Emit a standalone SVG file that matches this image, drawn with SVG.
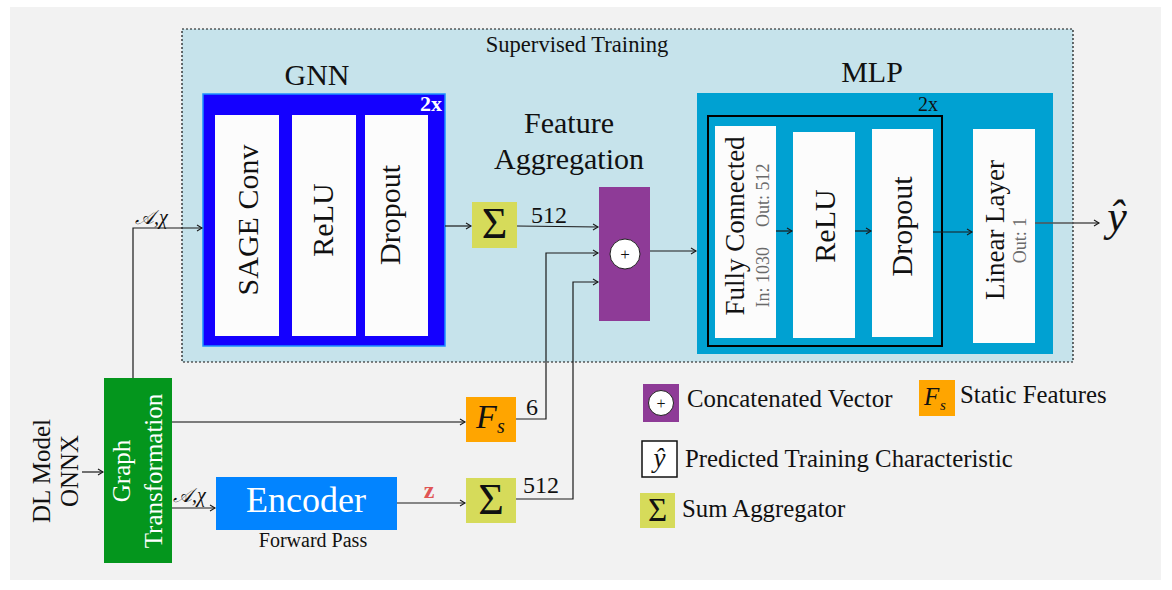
<svg xmlns="http://www.w3.org/2000/svg" width="1172" height="590" viewBox="0 0 1172 590">
<style>
text{font-family:"Liberation Serif","Times New Roman",serif;fill:#111}
.w{fill:#fcfcfc}
.sig{fill:#d6db5a}
.ln{fill:none;stroke:#1a1a1a;stroke-width:1.2}
.lg{fill:none;stroke:#555;stroke-width:1.4}
.t30{font-size:30px}
.t27{font-size:27px}
.sub{font-size:18px;fill:#6a6a6a}
.leg{font-size:24.8px}
.mid{text-anchor:middle}
</style>
<defs>
<marker id="ar" markerWidth="8" markerHeight="8" refX="6" refY="4" orient="auto" markerUnits="userSpaceOnUse">
<path d="M1,1 L6,4 L1,7" fill="none" stroke="#1a1a1a" stroke-width="1.1"/>
</marker>
</defs>
<rect x="0" y="0" width="1172" height="590" fill="#ffffff"/>
<rect x="10" y="7" width="1151" height="573" fill="#f2f2f2"/>

<g id="supervised">
<rect x="182" y="29" width="891" height="333" fill="#c6e3eb" stroke="#111" stroke-width="1.2" stroke-dasharray="2,2"/>
<text x="577" y="52" font-size="22.6" class="mid">Supervised Training</text>
</g>

<g id="gnn">
<text x="317" y="85" class="t30 mid">GNN</text>
<rect x="203" y="94" width="242" height="252" fill="#1400ff" stroke="#1e90ff" stroke-width="1.5"/>
<text x="442" y="111" font-size="22" font-weight="bold" style="fill:#fff" text-anchor="end">2x</text>
<rect class="w" x="215" y="115" width="64" height="221"/>
<rect class="w" x="292" y="115" width="64" height="221"/>
<rect class="w" x="365" y="115" width="63" height="221"/>
<text class="t30 mid" transform="translate(258,220) rotate(-90)">SAGE Conv</text>
<text class="t30 mid" transform="translate(333,220) rotate(-90)">ReLU</text>
<text class="t30 mid" transform="translate(400,215) rotate(-90)">Dropout</text>
</g>

<g id="sum1">
<rect class="sig" x="472" y="202" width="45" height="46"/>
<text x="494.5" y="238" font-size="44" class="mid">Σ</text>
</g>

<g id="feature-aggregation">
<text x="569" y="133" class="t30 mid">Feature</text>
<text x="569" y="169" class="t30 mid">Aggregation</text>
<rect x="599" y="187" width="51" height="134" fill="#8e3b97"/>
<circle cx="625" cy="254" r="15" fill="#fff" stroke="#222" stroke-width="1"/>
<text x="625" y="260" font-size="17" class="mid">+</text>
</g>

<g id="mlp">
<text x="872" y="82" class="t30 mid">MLP</text>
<rect x="697" y="93" width="356" height="261" fill="#00a1d2"/>
<rect x="708" y="116" width="234" height="230" fill="none" stroke="#000" stroke-width="2"/>
<text x="938" y="111" font-size="20" text-anchor="end">2x</text>
<rect class="w" x="715" y="126" width="61" height="212"/>
<rect class="w" x="793" y="132" width="62" height="206"/>
<rect class="w" x="872" y="129" width="61" height="208"/>
<rect class="w" x="973" y="129" width="62" height="214"/>
<text class="t27 mid" transform="translate(744,226) rotate(-90)">Fully Connected</text>
<text class="sub mid" transform="translate(769,235.5) rotate(-90)">In: 1030<tspan dx="20">Out: 512</tspan></text>
<text class="t30 mid" transform="translate(835,226) rotate(-90)">ReLU</text>
<text class="t30 mid" transform="translate(912,226.5) rotate(-90)">Dropout</text>
<text class="t27 mid" transform="translate(1004,230) rotate(-90)">Linear Layer</text>
<text class="sub mid" transform="translate(1026,240.5) rotate(-90)">Out: 1</text>
</g>

<g id="output">
<text x="1117" y="231" font-size="44" font-style="italic" class="mid">ŷ</text>
</g>

<g id="input">
<text font-size="25" class="mid" transform="translate(50,471) rotate(-90)">DL Model</text>
<text font-size="25" class="mid" transform="translate(78,471) rotate(-90)">ONNX</text>
</g>

<g id="graph-transformation">
<rect x="104" y="378" width="68" height="185" fill="#04961d"/>
<text font-size="25" class="mid" style="fill:#fff" transform="translate(130,471) rotate(-90)">Graph</text>
<text font-size="25" class="mid" style="fill:#fff" transform="translate(162,471) rotate(-90)">Transformation</text>
</g>

<g id="static-features">
<rect x="466" y="397" width="50" height="45" fill="#ffa500"/>
<text x="476" y="428" font-size="34" font-style="italic">F</text>
<text x="497" y="433" font-size="20" font-style="italic">s</text>
</g>

<g id="encoder">
<rect x="216" y="477" width="181" height="53" fill="#0284ff"/>
<text x="306" y="512" font-size="36" class="mid" style="fill:#fff">Encoder</text>
<text x="313" y="547" font-size="20" class="mid">Forward Pass</text>
</g>

<g id="sum2">
<rect class="sig" x="466" y="478" width="50" height="45"/>
<text x="491" y="514" font-size="44" class="mid">Σ</text>
</g>

<g id="connectors">
<path class="ln" d="M82,472 H103" marker-end="url(#ar)"/>
<path class="ln" d="M133,378 V228 H202" marker-end="url(#ar)"/>
<path class="ln" d="M445,226 H471" marker-end="url(#ar)"/>
<path class="ln" d="M517,226 L598,227" marker-end="url(#ar)"/>
<path class="ln" d="M516,419 H546 V253 H598" marker-end="url(#ar)"/>
<path class="ln" d="M516,499 H573 V282 H598" marker-end="url(#ar)"/>
<path class="ln" d="M650,251 H696" marker-end="url(#ar)"/>
<path class="ln" d="M776,231 H792" marker-end="url(#ar)"/>
<path class="ln" d="M855,231 H871" marker-end="url(#ar)"/>
<path class="ln" d="M933,232 H972" marker-end="url(#ar)"/>
<path class="lg" d="M1035,223 H1099" marker-end="url(#ar)"/>
<path class="lg" d="M172,422 H465" marker-end="url(#ar)"/>
<path class="ln" d="M172,508 H215" marker-end="url(#ar)"/>
<path class="ln" d="M397,503 H465" marker-end="url(#ar)"/>
<text x="135" y="224" font-size="20" font-style="italic">𝒜,χ</text>
<text x="173" y="502" font-size="20" font-style="italic">𝒜,χ</text>
<text x="531" y="223" font-size="24">512</text>
<text x="526" y="415" font-size="24">6</text>
<text x="523" y="493" font-size="24">512</text>
<text x="429" y="498" font-size="24" font-weight="bold" class="mid" style="fill:#e05555">z</text>
</g>

<g id="legend">
<rect x="643" y="384" width="36" height="38" fill="#8e3b97"/>
<circle cx="661" cy="403" r="12.5" fill="#fff" stroke="#222" stroke-width="1"/>
<text x="661" y="409" font-size="16" class="mid">+</text>
<text x="687" y="407" class="leg">Concatenated Vector</text>
<rect x="919" y="380" width="36" height="36" fill="#ffa500"/>
<text x="924" y="405" font-size="25" font-style="italic">F</text>
<text x="940" y="410" font-size="15" font-style="italic">s</text>
<text x="960" y="403" class="leg">Static Features</text>
<rect x="642" y="441" width="35" height="36" fill="#fff" stroke="#111" stroke-width="1.5"/>
<text x="659.5" y="467" font-size="27" font-style="italic" class="mid">ŷ</text>
<text x="685" y="467" class="leg">Predicted Training Characteristic</text>
<rect class="sig" x="640" y="493" width="35" height="35"/>
<text x="657.5" y="521" font-size="33" class="mid">Σ</text>
<text x="682" y="517" class="leg">Sum Aggregator</text>
</g>
</svg>
